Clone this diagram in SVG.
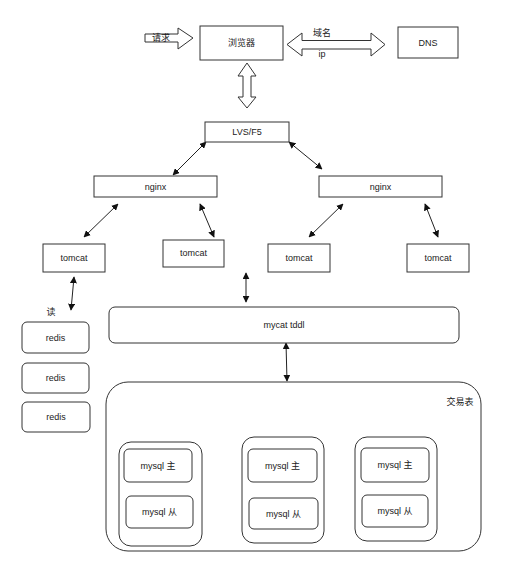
<svg xmlns="http://www.w3.org/2000/svg" width="528" height="582" viewBox="0 0 528 582">
<style>
.box{fill:#fff;stroke:#333;stroke-width:1}
.blk{fill:#fff;stroke:#333;stroke-width:1;stroke-linejoin:miter}
.t{font-family:"Liberation Sans","Noto Sans CJK SC",sans-serif;font-size:9px;fill:#222;text-anchor:middle;dominant-baseline:central}
.ln{stroke:#222;stroke-width:1;fill:none;marker-start:url(#ah);marker-end:url(#ah)}
</style>
<defs>
<marker id="ah" viewBox="0 0 10 10" refX="9" refY="5" markerWidth="7" markerHeight="7" markerUnits="userSpaceOnUse" orient="auto-start-reverse">
<path d="M0,0 L10,5 L0,10 Z" fill="#111"/>
</marker>
</defs>
<rect width="528" height="582" fill="#fff"/>

<g id="connectors">
<path class="blk" d="M145,34 L178,34 L178,28 L193,38 L178,49 L178,42 L145,42 Z"/>
<path class="blk" d="M287,44.5 L302,33 L302,40.5 L371,40.5 L371,33 L385,44.5 L371,56 L371,49 L302,49 L302,56 Z"/>
<path class="blk" d="M247,63 L256,76 L251,76 L251,97 L256,97 L247,108 L238,97 L243,97 L243,76 L238,76 Z"/>
<line class="ln" x1="206" y1="142" x2="173" y2="175"/>
<line class="ln" x1="289" y1="142" x2="322" y2="169"/>
<line class="ln" x1="118" y1="204" x2="84" y2="237"/>
<line class="ln" x1="200" y1="204" x2="214" y2="237"/>
<line class="ln" x1="343" y1="204" x2="309" y2="237"/>
<line class="ln" x1="425" y1="204" x2="438" y2="237"/>
<line class="ln" x1="74" y1="277" x2="71" y2="310"/>
<line class="ln" x1="246" y1="273" x2="246" y2="302"/>
<line class="ln" x1="286" y1="343" x2="287" y2="381"/>
<line class="ln" x1="158" y1="394" x2="158" y2="432"/>
<line class="ln" x1="275" y1="395" x2="275" y2="432"/>
<line class="ln" x1="392" y1="396" x2="392" y2="433"/>
<text class="t" x="161" y="38">请求</text>
<text class="t" x="322" y="33">域名</text>
<text class="t" x="322" y="54">ip</text>
<text class="t" x="51" y="312">读</text>
<text class="t" x="175" y="414">数据 % 1</text>
<text class="t" x="300" y="414">数据 % 2</text>
<text class="t" x="419" y="415">数据 % 3</text>
</g>

<g id="browser"><rect class="box" x="200" y="26" width="83" height="34"/><text class="t" x="241.5" y="43">浏览器</text></g>
<g id="dns"><rect class="box" x="398" y="27" width="60" height="31"/><text class="t" x="428" y="43">DNS</text></g>
<g id="lvs"><rect class="box" x="205" y="122" width="84" height="20"/><text class="t" x="247" y="132">LVS/F5</text></g>
<g id="nginx1"><rect class="box" x="94" y="176" width="123" height="21"/><text class="t" x="155.5" y="187">nginx</text></g>
<g id="nginx2"><rect class="box" x="319" y="176" width="123" height="21"/><text class="t" x="380.5" y="187">nginx</text></g>
<g id="tomcat1"><rect class="box" x="43" y="244" width="62" height="28"/><text class="t" x="74" y="258">tomcat</text></g>
<g id="tomcat2"><rect class="box" x="163" y="240" width="61" height="27"/><text class="t" x="193.5" y="253">tomcat</text></g>
<g id="tomcat3"><rect class="box" x="268" y="244" width="62" height="28"/><text class="t" x="299" y="258">tomcat</text></g>
<g id="tomcat4"><rect class="box" x="407" y="244" width="62" height="28"/><text class="t" x="438" y="258">tomcat</text></g>
<g id="redis1"><rect class="box" x="22" y="322" width="67" height="31" rx="5"/><text class="t" x="55.5" y="337.5">redis</text></g>
<g id="redis2"><rect class="box" x="22" y="363" width="67" height="30" rx="5"/><text class="t" x="55.5" y="377.5">redis</text></g>
<g id="redis3"><rect class="box" x="22" y="402" width="68" height="30" rx="5"/><text class="t" x="56" y="416.5">redis</text></g>
<g id="mycat"><rect class="box" x="109" y="307" width="350" height="36" rx="6"/><text class="t" x="284" y="325">mycat tddl</text></g>
<g id="trade"><rect class="box" x="106" y="382" width="375" height="169" rx="22"/><text class="t" x="460" y="402">交易表</text></g>
<g id="group1"><rect class="box" x="119" y="442" width="83" height="104" rx="12"/>
<rect class="box" x="124" y="449" width="68" height="33" rx="5"/><text class="t" x="158" y="465.5">mysql 主</text>
<rect class="box" x="126" y="496" width="67" height="32" rx="5"/><text class="t" x="159.5" y="512">mysql 从</text></g>
<g id="group2"><rect class="box" x="242" y="437" width="82" height="106" rx="12"/>
<rect class="box" x="248" y="449" width="69" height="33" rx="5"/><text class="t" x="282.5" y="465.5">mysql 主</text>
<rect class="box" x="249" y="498" width="69" height="31" rx="5"/><text class="t" x="283.5" y="513.5">mysql 从</text></g>
<g id="group3"><rect class="box" x="355" y="437" width="82" height="104" rx="12"/>
<rect class="box" x="361" y="448" width="68" height="34" rx="5"/><text class="t" x="395" y="465">mysql 主</text>
<rect class="box" x="362" y="495" width="66" height="32" rx="5"/><text class="t" x="395" y="511">mysql 从</text></g>
</svg>
